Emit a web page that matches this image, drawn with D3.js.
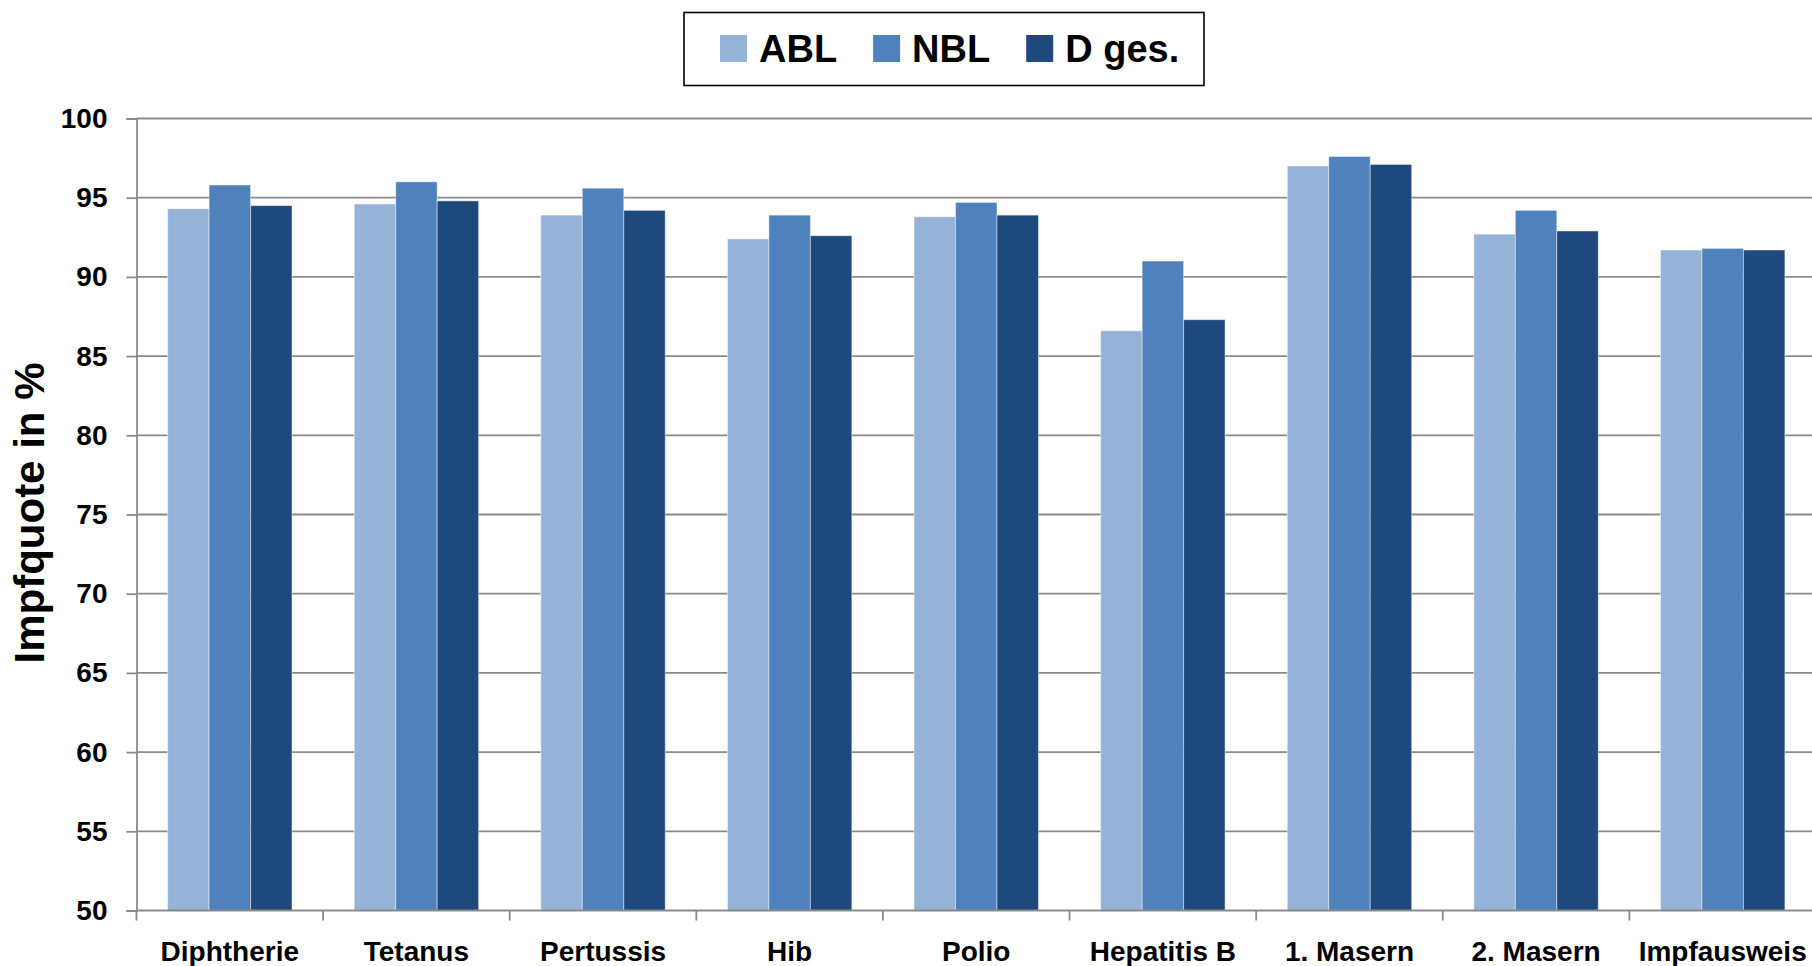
<!DOCTYPE html>
<html>
<head>
<meta charset="utf-8">
<script src="https://cdn.jsdelivr.net/npm/d3@7"></script>
<style>
  html, body { margin: 0; padding: 0; background: #fff; overflow: hidden; }
  svg { display: block; font-family: "Liberation Sans", Arial, sans-serif; font-weight: bold; }
</style>
</head>
<body>
<svg id="chart" width="1812" height="966"></svg>
<script>
// ---- data ----
const categories = ["Diphtherie", "Tetanus", "Pertussis", "Hib", "Polio", "Hepatitis B", "1. Masern", "2. Masern", "Impfausweis"];
const seriesNames = ["ABL", "NBL", "D ges."];
const seriesColors = ["#95B3D7", "#4F81BD", "#1F497D"];
const ablValues = [94.3, 94.6, 93.9, 92.4, 93.8, 86.6, 97.0, 92.7, 91.7];
const nblValues = [95.8, 96.0, 95.6, 93.9, 94.7, 91.0, 97.6, 94.2, 91.8];
const dgesValues = [94.5, 94.8, 94.2, 92.6, 93.9, 87.3, 97.1, 92.9, 91.7];
const yTicks = [50, 55, 60, 65, 70, 75, 80, 85, 90, 95, 100];
const yTitle = "Impfquote in %";

const seriesValues = [ablValues, nblValues, dgesValues];

// ---- layout ----
const svg = d3.select("#chart");
const plot = { left: 136.5, right: 1816, top: 118.5, bottom: 910.5 };

const x = d3.scaleBand().domain(categories).range([plot.left, plot.right]).padding(0);
const step = x.bandwidth();
const barW = step / 4.5; // Excel gap width 150%
const xs = d3.scaleBand().domain(seriesNames).range([barW * 0.75, step - barW * 0.75]).padding(0);
const y = d3.scaleLinear().domain([50, 100]).range([plot.bottom, plot.top]);

const gridColor = "#8a8a8a";

// gridlines
svg.append("g")
  .selectAll("line")
  .data(yTicks.filter(t => t !== 50))
  .join("line")
  .attr("x1", plot.left).attr("x2", plot.right)
  .attr("y1", d => y(d)).attr("y2", d => y(d))
  .attr("stroke", gridColor).attr("stroke-width", 1.8);

// y axis
const yAxis = svg.append("g")
  .attr("transform", `translate(${plot.left},0)`)
  .call(d3.axisLeft(y).tickValues(yTicks).tickSize(10).tickPadding(19));
yAxis.select(".domain").attr("stroke", gridColor).attr("stroke-width", 1.8);
yAxis.selectAll(".tick line").attr("stroke", gridColor).attr("stroke-width", 1.8);
yAxis.selectAll(".tick text")
  .attr("font-size", 28).attr("font-weight", "bold").attr("fill", "#000")
  .attr("font-family", '"Liberation Sans", Arial, sans-serif');

// bars
const groups = svg.append("g")
  .selectAll("g")
  .data(categories)
  .join("g")
  .attr("transform", d => `translate(${x(d)},0)`);

groups.selectAll("rect")
  .data((d, i) => seriesNames.map((s, j) => ({ s, v: seriesValues[j][i], c: seriesColors[j] })))
  .join("rect")
  .attr("x", d => xs(d.s))
  .attr("width", xs.bandwidth())
  .attr("y", d => y(d.v))
  .attr("height", d => y(50) - y(d.v))
  .attr("fill", d => d.c)
  .attr("stroke", "rgba(255,255,255,0.45)")
  .attr("stroke-width", 1);

// x axis
const xAxisG = svg.append("g").attr("transform", `translate(0,${plot.bottom})`);
xAxisG.append("line")
  .attr("x1", plot.left).attr("x2", plot.right)
  .attr("y1", 0).attr("y2", 0)
  .attr("stroke", gridColor).attr("stroke-width", 1.8);
const boundaries = categories.map(c => x(c)).concat([x(categories[categories.length - 1]) + step]);
xAxisG.selectAll("line.tk")
  .data(boundaries)
  .join("line")
  .attr("class", "tk")
  .attr("x1", d => d).attr("x2", d => d)
  .attr("y1", 0).attr("y2", 10)
  .attr("stroke", gridColor).attr("stroke-width", 1.8);
xAxisG.selectAll("text")
  .data(categories)
  .join("text")
  .attr("x", d => x(d) + step / 2)
  .attr("y", 50)
  .attr("text-anchor", "middle")
  .attr("font-size", 28)
  .attr("fill", "#000")
  .text(d => d);

// y title
svg.append("text")
  .attr("transform", `translate(44,513) rotate(-90)`)
  .attr("text-anchor", "middle")
  .attr("font-size", 42)
  .attr("fill", "#000")
  .text(yTitle);

// legend
const legend = svg.append("g");
legend.append("rect")
  .attr("x", 684).attr("y", 12.5).attr("width", 520).attr("height", 73)
  .attr("fill", "#fff").attr("stroke", "#000").attr("stroke-width", 1.6);
let lx = 720;
seriesNames.forEach((name, i) => {
  legend.append("rect")
    .attr("x", lx).attr("y", 35).attr("width", 27).attr("height", 27)
    .attr("fill", seriesColors[i]);
  const t = legend.append("text")
    .attr("x", lx + 39).attr("y", 61.5)
    .attr("font-size", 38).attr("fill", "#000")
    .text(name);
  lx += 39 + t.node().getComputedTextLength() + 36;
});
</script>
</body>
</html>
